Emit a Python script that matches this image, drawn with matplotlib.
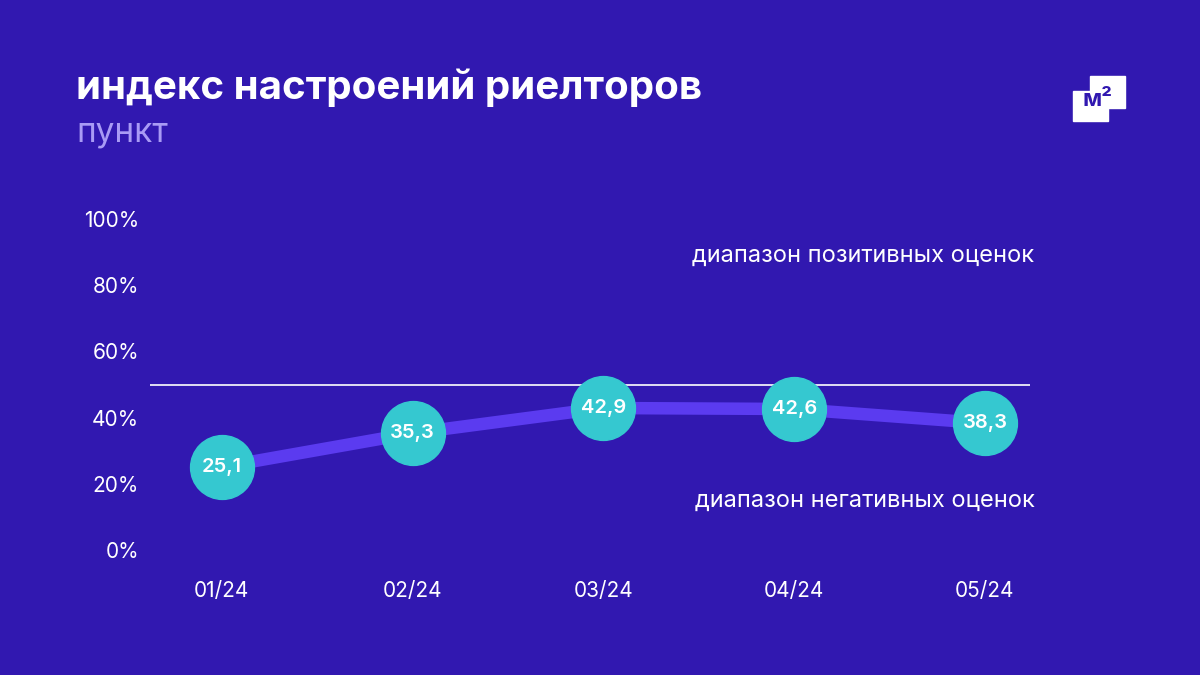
import matplotlib.pyplot as plt
from matplotlib.patches import Rectangle

months = ['01/24', '02/24', '03/24', '04/24', '05/24']
index_values = [25.1, 35.3, 42.9, 42.6, 38.3]
value_labels = ['25,1', '35,3', '42,9', '42,6', '38,3']
yticks = [0, 20, 40, 60, 80, 100]
threshold = 50

bg = '#3118B0'
plt.rcParams['font.family'] = ['Inter', 'DejaVu Sans']

fig = plt.figure(figsize=(12, 6.75), dpi=100, facecolor=bg)
ax = fig.add_axes([150/1200, 125/675, 880/1200, 331/675], facecolor=bg)

x = list(range(len(months)))
ax.plot(x, index_values, color='#5B3BF0', lw=9, solid_capstyle='round', zorder=2)
ax.plot(x, index_values, 'o', ms=46, color='#35C8D0', zorder=3)
for xi, v, lab in zip(x, index_values, value_labels):
    ax.text(xi, v, lab, ha='center', va='center', color='white', fontsize=14.5,
            fontweight='semibold', zorder=4)
ax.axhline(threshold, color='white', lw=1.2, zorder=1)

ax.set_xlim(-0.377, 4.236)
ax.set_ylim(0, 100)
ax.set_yticks(yticks)
ax.set_yticklabels([f'{t}%' for t in yticks])
ax.set_xticks(x)
ax.set_xticklabels(months)
ax.tick_params(colors='white', labelsize=15, length=0)
ax.tick_params(axis='y', pad=8)
ax.tick_params(axis='x', pad=22)
for s in ax.spines.values():
    s.set_visible(False)

ax.text(4.26, 89, 'диапазон позитивных оценок', ha='right', va='center',
        color='white', fontsize=17)
ax.text(4.26, 15, 'диапазон негативных оценок', ha='right', va='center',
        color='white', fontsize=17)

fig.text(76/1200, 1 - 88/675, 'индекс настроений риелторов', color='white',
         fontsize=29, fontweight='bold', va='center')
fig.text(76/1200, 1 - 133/675, 'пункт', color='#A99BF5', fontsize=24, va='center')

# logo
fig.patches.append(Rectangle((1073/1200, 1 - 121/675), 35/1200, 30/675,
                             transform=fig.transFigure, color='white'))
fig.patches.append(Rectangle((1090/1200, 1 - 108/675), 35/1200, 32/675,
                             transform=fig.transFigure, color='white'))
fig.text(1098/1200, 1 - 100/675, 'м²', color=bg, fontsize=17, fontweight='bold',
         ha='center', va='center')

fig.savefig('out.png', facecolor=bg)
